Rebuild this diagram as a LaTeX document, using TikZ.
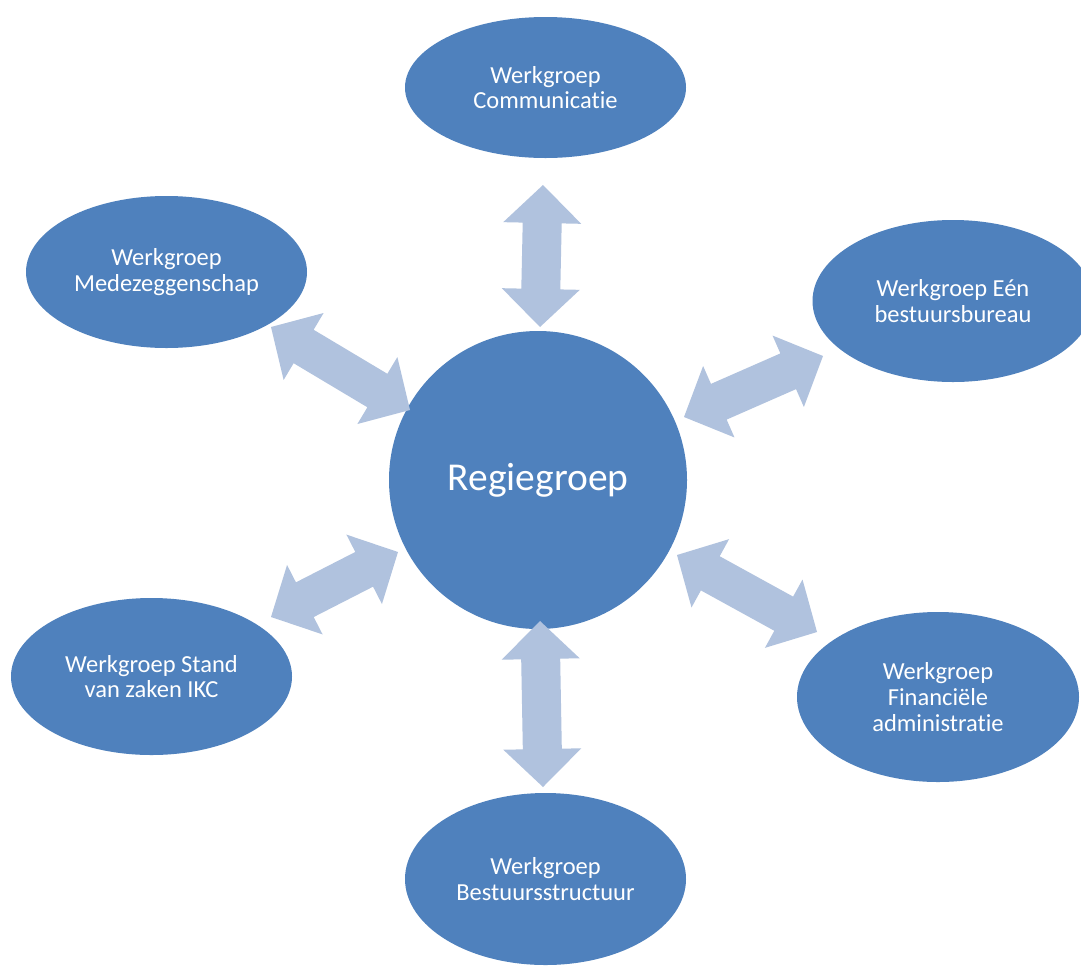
\documentclass[tikz,border=0pt]{standalone}
\usepackage{fontspec}
\setmainfont{Carlito}[Ligatures=NoCommon]
\usetikzlibrary{shapes.geometric,calc}
\definecolor{nodeblue}{RGB}{79,129,189}
\definecolor{arrowblue}{RGB}{176,194,222}
\newcommand\hlen{38pt}
\newcommand\hwid{39pt}
\newcommand\swid{19.5pt}
\newcommand\dblarrow[2]{%
  \coordinate (h1) at ($(#1)!\hlen!(#2)$);
  \coordinate (h2) at ($(#2)!\hlen!(#1)$);
  \fill[arrowblue] (#1) -- ($(h1)!\hwid!90:(#2)$) -- ($(h1)!\swid!90:(#2)$)
    -- ($(h2)!\swid!-90:(#1)$) -- ($(h2)!\hwid!-90:(#1)$) -- (#2)
    -- ($(h2)!\hwid!90:(#1)$) -- ($(h2)!\swid!90:(#1)$)
    -- ($(h1)!\swid!-90:(#2)$) -- ($(h1)!\hwid!-90:(#2)$) -- cycle;}
\tikzset{
  wg/.style={ellipse, fill=nodeblue, inner sep=0pt, text=white, align=center,
    font=\fontsize{24.5}{25.8}\selectfont},
}
\begin{document}
\begin{tikzpicture}[x=1pt,y=-1pt]
\useasboundingbox (0,0) rectangle (1081,967);
\clip (0,0) rectangle (1081,967);
\fill[white] (0,0) rectangle (1081,967);
% nodes
\node[wg, minimum width=281pt, minimum height=141pt] (comm) at (545.5,87.5) {Werkgroep\\Communicatie};
\node[wg, minimum width=281pt, minimum height=152pt] (mede) at (166.5,272) {Werkgroep\\Medezeggenschap};
\node[wg, minimum width=281pt, minimum height=162pt] (een) at (953,301) {Werkgroep Eén\\bestuursbureau};
\node[wg, circle, minimum size=298pt, font=\fontsize{39.5}{42}\selectfont] (regie) at (538,480) {Regiegroep};
\node[wg, minimum width=281pt, minimum height=157pt] (stand) at (151.5,676.5) {Werkgroep Stand\\van zaken IKC};
\node[wg, minimum width=282pt, minimum height=170pt] (fin) at (938,697) {Werkgroep\\Financiële\\administratie};
\node[wg, minimum width=281pt, minimum height=172pt] (best) at (545.5,879) {Werkgroep\\Bestuursstructuur};
% arrow end points
\coordinate (a1) at (543,185); \coordinate (b1) at (540,327);
\coordinate (a2) at (271,327); \coordinate (b2) at (410,410);
\coordinate (a3) at (684,417); \coordinate (b3) at (823,356);
\coordinate (a4) at (271,617); \coordinate (b4) at (398,552);
\coordinate (a5) at (677,555); \coordinate (b5) at (817,632);
\coordinate (a6) at (540,621); \coordinate (b6) at (543,787);
\dblarrow{a1}{b1}
\dblarrow{a2}{b2}
\dblarrow{a3}{b3}
\dblarrow{a4}{b4}
\dblarrow{a5}{b5}
\dblarrow{a6}{b6}
\end{tikzpicture}
\end{document}
